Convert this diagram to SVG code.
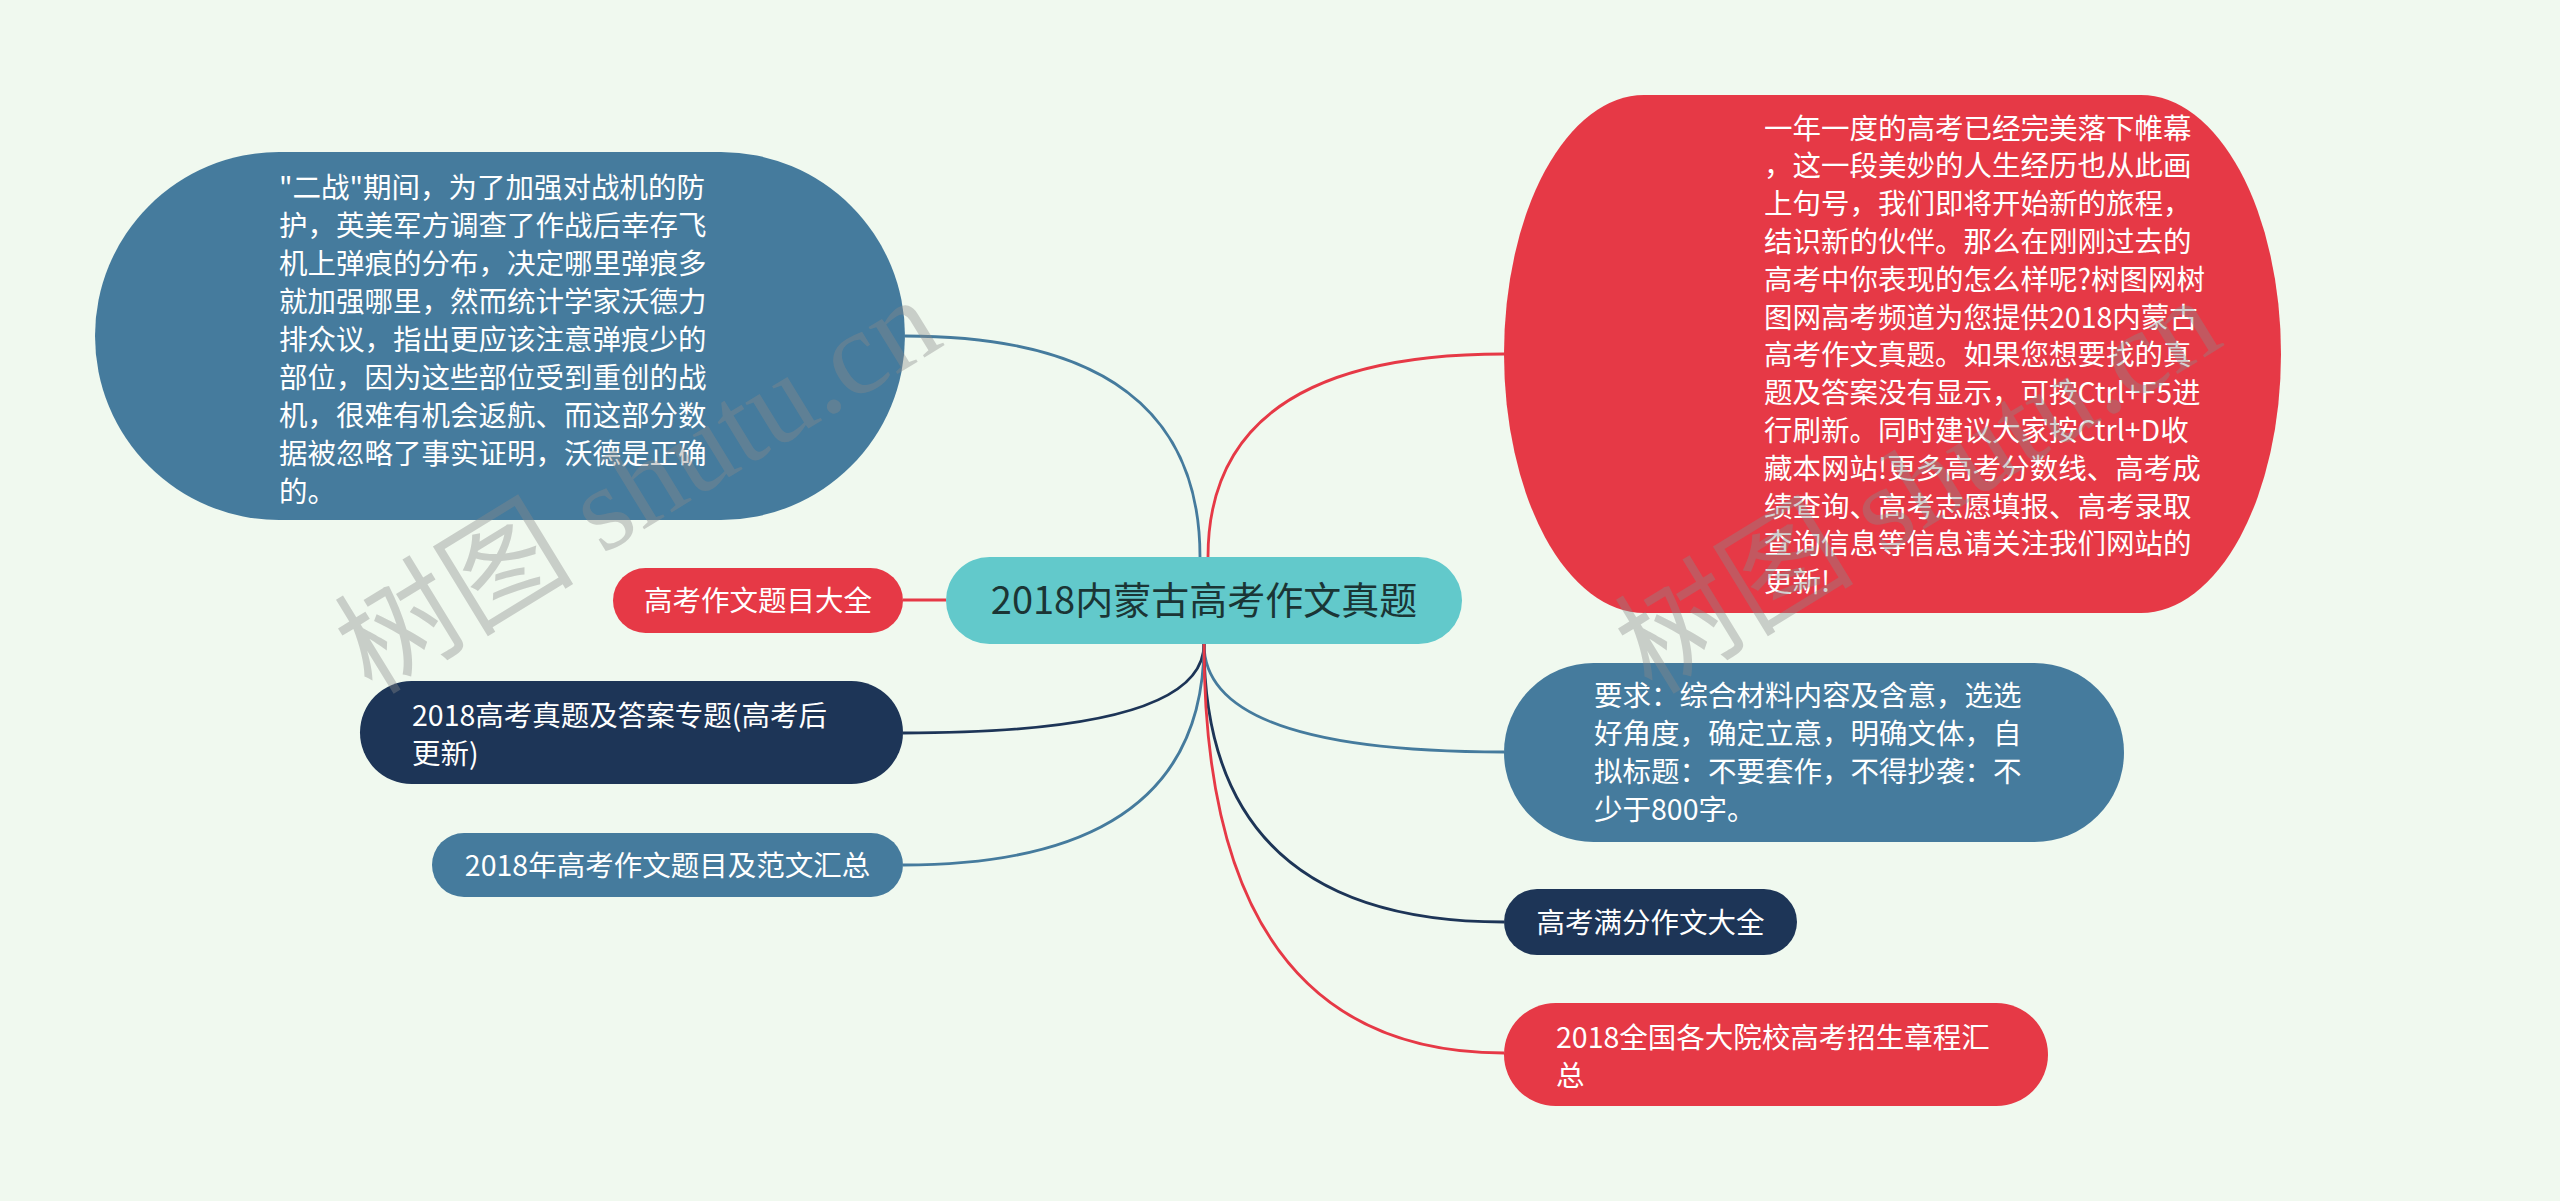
<svg xmlns="http://www.w3.org/2000/svg" width="2560" height="1201" viewBox="0 0 2560 1201">
<style>
.bg{fill:#F0F9EF}
.blue{fill:#457B9D}
.navy{fill:#1D3557}
.red{fill:#E63946}
.teal{fill:#62C9CB}
.t{font-family:"Noto Sans CJK SC","Microsoft YaHei",sans-serif;font-size:28.5px;fill:#FFFFFF}
.c{text-anchor:middle}
.main{font-family:"Noto Sans CJK SC","Microsoft YaHei",sans-serif;font-size:38px;fill:#1B3535;text-anchor:middle}
.ln{fill:none;stroke-width:2.8}
.lb{stroke:#457B9D}
.ln2{stroke:#1D3557}
.lr{stroke:#E63946}
.wm{font-family:"Liberation Serif","Noto Sans CJK SC",serif;font-size:120px;fill:#8A8A8A;opacity:0.38}
</style>
<rect class="bg" x="0" y="0" width="2560" height="1201"/>
<g id="connectors">
<path class="ln lb" d="M1200,557 Q1200,336 905,336"/>
<path class="ln lr" d="M1208,557 Q1208,354 1504,354"/>
<path class="ln lr" d="M946,600 L903,600"/>
<path class="ln ln2" d="M1204,644 Q1204,733 903,733"/>
<path class="ln lb" d="M1204,644 Q1204,865 903,865"/>
<path class="ln lb" d="M1204,644 Q1204,752 1504,752"/>
<path class="ln ln2" d="M1204,644 Q1204,922 1504,922"/>
<path class="ln lr" d="M1204,644 Q1204,1053 1504,1053"/>
</g>
<g id="center">
<rect class="teal" x="946" y="557" width="516" height="87" rx="43.5"/>
<text class="main" x="1204" y="614">2018内蒙古高考作文真题</text>
</g>
<g id="node-wwii">
<rect class="blue" x="95" y="152" width="810" height="368" rx="184"/>
<text class="t" x="279" y="197.5">"二战"期间，为了加强对战机的防</text>
<text class="t" x="279" y="235.5">护，英美军方调查了作战后幸存飞</text>
<text class="t" x="279" y="273.5">机上弹痕的分布，决定哪里弹痕多</text>
<text class="t" x="279" y="311.5">就加强哪里，然而统计学家沃德力</text>
<text class="t" x="279" y="349.5">排众议，指出更应该注意弹痕少的</text>
<text class="t" x="279" y="387.5">部位，因为这些部位受到重创的战</text>
<text class="t" x="279" y="425.5">机，很难有机会返航、而这部分数</text>
<text class="t" x="279" y="463.5">据被忽略了事实证明，沃德是正确</text>
<text class="t" x="279" y="501.5">的。</text>
</g>
<g id="node-topics">
<rect class="red" x="613" y="568" width="290" height="65" rx="32.5"/>
<text class="t c" x="758" y="610.5">高考作文题目大全</text>
</g>
<g id="node-answers">
<rect class="navy" x="360" y="681" width="543" height="103" rx="51.5"/>
<text class="t" x="412" y="725.5">2018高考真题及答案专题(高考后</text>
<text class="t" x="412" y="763.5">更新)</text>
</g>
<g id="node-essays">
<rect class="blue" x="432" y="833" width="471" height="64" rx="32"/>
<text class="t c" x="667.5" y="876">2018年高考作文题目及范文汇总</text>
</g>
<g id="node-intro">
<rect class="red" x="1504" y="95" width="777" height="518" rx="140" ry="259"/>
<text class="t" x="1764" y="138.5">一年一度的高考已经完美落下帷幕</text>
<text class="t" x="1764" y="176.3">，这一段美妙的人生经历也从此画</text>
<text class="t" x="1764" y="214.1">上句号，我们即将开始新的旅程，</text>
<text class="t" x="1764" y="251.9">结识新的伙伴。那么在刚刚过去的</text>
<text class="t" x="1764" y="289.7">高考中你表现的怎么样呢?树图网树</text>
<text class="t" x="1764" y="327.5">图网高考频道为您提供2018内蒙古</text>
<text class="t" x="1764" y="365.3">高考作文真题。如果您想要找的真</text>
<text class="t" x="1764" y="403.1">题及答案没有显示，可按Ctrl+F5进</text>
<text class="t" x="1764" y="440.9">行刷新。同时建议大家按Ctrl+D收</text>
<text class="t" x="1764" y="478.7">藏本网站!更多高考分数线、高考成</text>
<text class="t" x="1764" y="516.5">绩查询、高考志愿填报、高考录取</text>
<text class="t" x="1764" y="554.3">查询信息等信息请关注我们网站的</text>
<text class="t" x="1764" y="592.1">更新!</text>
</g>
<g id="node-requirement">
<rect class="blue" x="1504" y="663" width="620" height="179" rx="89.5"/>
<text class="t" x="1594" y="705.5">要求：综合材料内容及含意，选选</text>
<text class="t" x="1594" y="743.5">好角度，确定立意，明确文体，自</text>
<text class="t" x="1594" y="781.5">拟标题：不要套作，不得抄袭：不</text>
<text class="t" x="1594" y="819.5">少于800字。</text>
</g>
<g id="node-fullmarks">
<rect class="navy" x="1504" y="889" width="293" height="66" rx="33"/>
<text class="t c" x="1650.5" y="932.5">高考满分作文大全</text>
</g>
<g id="node-admission">
<rect class="red" x="1504" y="1003" width="544" height="103" rx="51.5"/>
<text class="t" x="1556" y="1047.5">2018全国各大院校高考招生章程汇</text>
<text class="t" x="1556" y="1085.5">总</text>
</g>
<g id="watermarks">
<text class="wm" x="372" y="696" transform="rotate(-31.5 372 696)">树图 shutu.cn</text>
<text class="wm" x="1652" y="696" transform="rotate(-31.5 1652 696)">树图 shutu.cn</text>
</g>
</svg>
